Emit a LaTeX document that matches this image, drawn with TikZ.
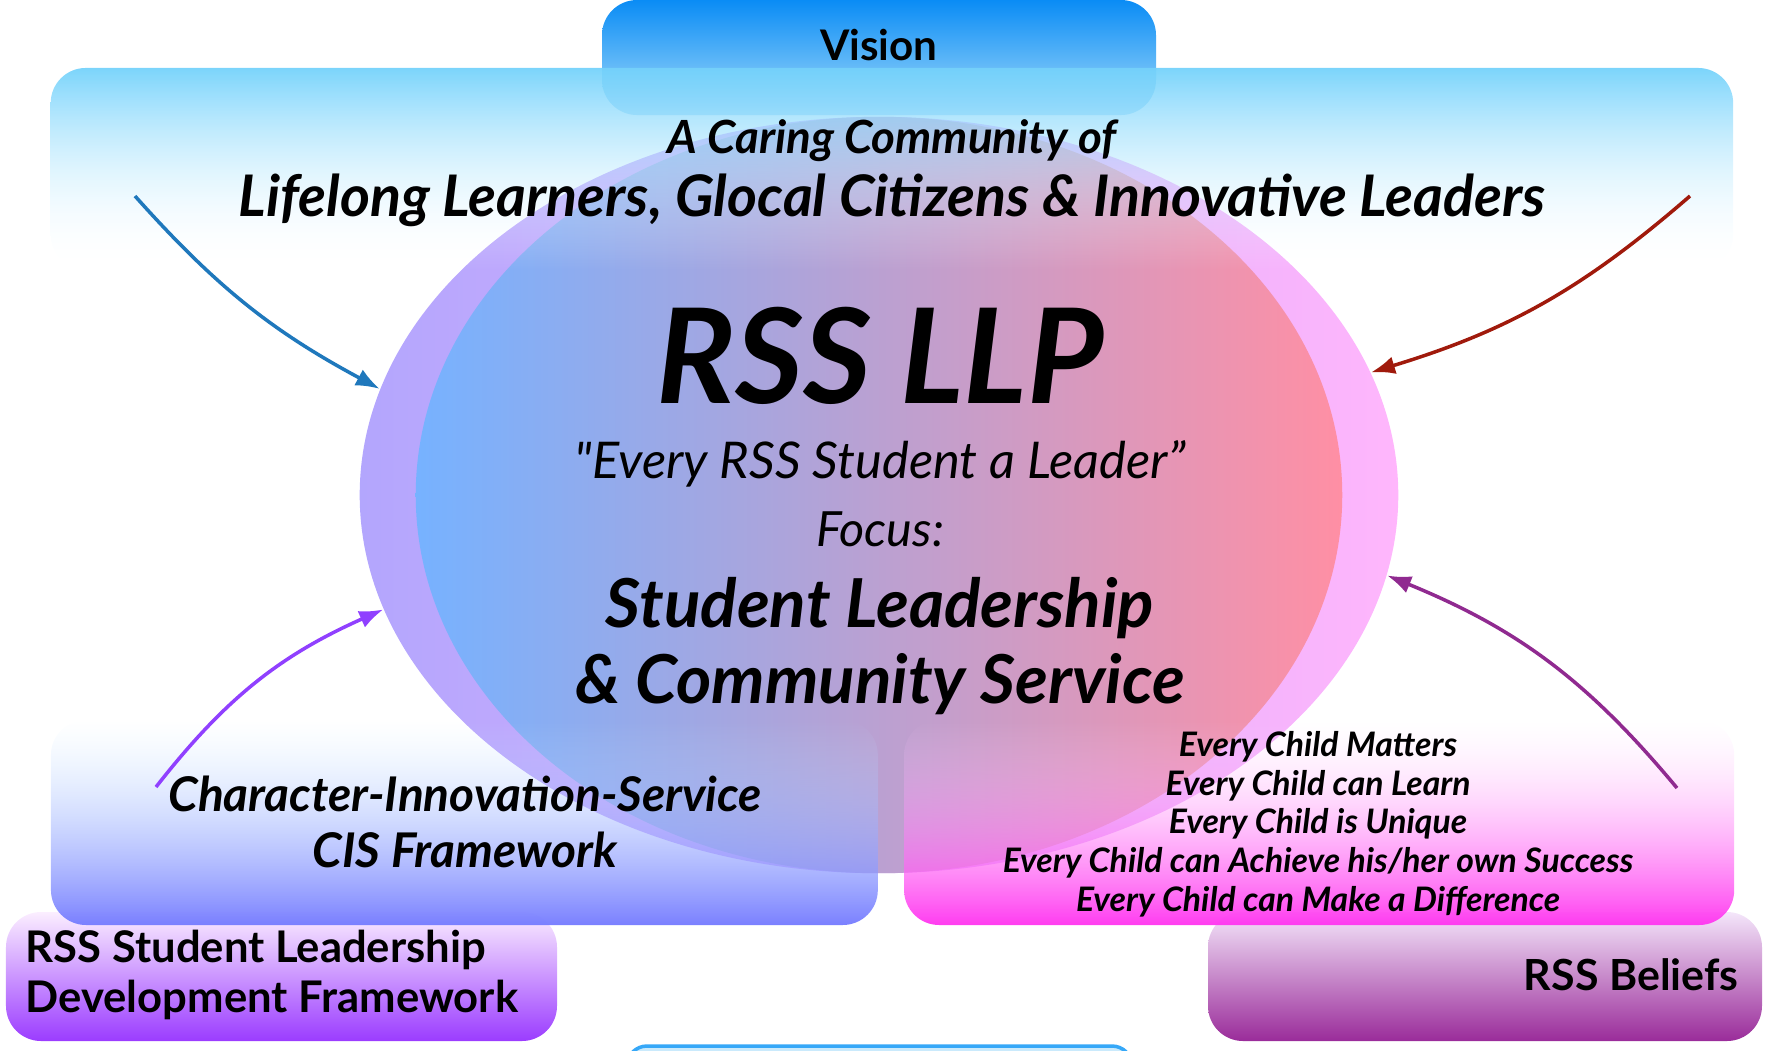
\documentclass[tikz,border=0pt]{standalone}
\usepackage{fontspec}
\setmainfont{Lato}
\usetikzlibrary{arrows.meta,shapes.geometric,fadings}

\definecolor{visiontop}{HTML}{0A8CF5}
\definecolor{visionbot}{HTML}{A6DCFA}
\definecolor{topbox}{HTML}{74D2FB}
\definecolor{outerleft}{HTML}{B3A6FD}
\definecolor{outerright}{HTML}{FFB6FC}
\definecolor{innerleft}{HTML}{76B2FF}
\definecolor{innerright}{HTML}{FF8FA4}
\definecolor{cistop}{HTML}{C4E6FF}
\definecolor{cisbot}{HTML}{7A80FF}
\definecolor{belieftop}{HTML}{FFD8FF}
\definecolor{beliefbot}{HTML}{FF3CF0}
\definecolor{sldftop}{HTML}{FBEEFF}
\definecolor{sldfbot}{HTML}{9B3CFF}
\definecolor{rsbtop}{HTML}{F4E6FA}
\definecolor{rsbbot}{HTML}{9A2C9A}
\definecolor{peekblue}{HTML}{36A8F8}
\definecolor{bluearrow}{HTML}{1F78BC}
\definecolor{redarrow}{HTML}{A01A0C}
\definecolor{violetarrow}{HTML}{9040FF}
\definecolor{plumarrow}{HTML}{902A90}

\tikzset{
  panel/.style={rounded corners=0.35cm},
  link/.style={line width=1pt, -{Latex[length=2.4mm,width=1.8mm]}},
  headtext/.style={font=\fontsize{12}{14}\selectfont\bfseries},
  slogan/.style={font=\fontsize{16.3}{19}\selectfont\bfseries\itshape},
  midtext/.style={font=\fontsize{13.6}{16}\selectfont\bfseries\itshape, align=center},
  bigtext/.style={font=\fontsize{19.2}{21.8}\selectfont\bfseries\itshape, align=center},
  smalltext/.style={font=\fontsize{9.6}{11}\selectfont\bfseries\itshape, align=center},
}

\begin{document}
\begin{tikzpicture}[x=0.01cm,y=-0.01cm]
\useasboundingbox (0,0) rectangle (1765,1050);

% tabs behind the panels
\shade[panel, top color=visiontop, bottom color=visionbot] (602,0) rectangle (1156,115);
\shade[panel, top color=sldftop, bottom color=sldfbot] (6,912) rectangle (557,1041);
\shade[panel, top color=rsbtop, bottom color=rsbbot] (1208,912) rectangle (1762,1041);
\draw[line width=1pt, draw=peekblue, fill=visionbot!60, rounded corners=0.2cm] (627,1046) rectangle (1132,1130);

% the two ellipses
\node[ellipse, minimum width=10.38cm, minimum height=7.56cm, left color=outerleft, right color=outerright] (llp) at (879,495) {};
\node[ellipse, minimum width=9.26cm, minimum height=7.56cm, left color=innerleft, right color=innerright] (core) at (879,495) {};

% panels over the ellipse
\shade[panel, top color=topbox, bottom color=white, path fading=south, fill opacity=0.95] (51,68) rectangle (1734,270);
\shade[panel, top color=cistop, bottom color=cisbot, path fading=north] (51,720) rectangle (878,925);
\shade[panel, top color=belieftop, bottom color=beliefbot, path fading=north] (904,720) rectangle (1734,925);

% texts
\node[headtext] (vision) at (879,45) {Vision};
\node[slogan, font=\fontsize{13}{15}\selectfont\bfseries\itshape] (caring) at (892,141) {A Caring Community of};
\node[slogan] (lifelong) at (892,200) {Lifelong Learners, Glocal Citizens \& Innovative Leaders};
\node[font=\fontsize{37.5}{40}\selectfont\bfseries\itshape] (title) at (880,356) {RSS LLP};
\node[font=\fontsize{14.4}{17}\selectfont\itshape] (motto) at (880,464) {\textquotedbl Every RSS Student a Leader”};
\node[font=\fontsize{13.8}{16}\selectfont\itshape] (focus) at (880,529) {Focus:};
\node[bigtext] (slcs) at (880,646) {Student Leadership\\\& Community Service};
\node[midtext] (cis) at (465,822) {Character-Innovation-Service\\CIS Framework};
\node[smalltext] (beliefs) at (1318,824) {Every Child Matters\\Every Child can Learn\\Every Child is Unique\\Every Child can Achieve his/her own Success\\Every Child can Make a Difference};
\node[headtext, font=\fontsize{12.4}{14}\selectfont\bfseries, align=left, anchor=west, inner sep=0] (sldf) at (25,975) {RSS Student Leadership\\Development Framework};
\node[headtext, font=\fontsize{12.2}{14}\selectfont\bfseries, anchor=east, inner sep=0] (rsb) at (1739,975) {RSS Beliefs};

% arrows into the ellipse
\coordinate (visiontail) at (135,196);
\coordinate (missiontail) at (1690,196);
\coordinate (cistail) at (156,787);
\coordinate (belieftail) at (1677,788);
\draw[link, bluearrow] (visiontail) to[bend right=10] (llp.168);
\draw[link, redarrow] (missiontail) to[bend left=12] (llp.14);
\draw[link, violetarrow] (cistail) to[bend left=14] (llp.193);
\draw[link, plumarrow] (belieftail) to[bend right=14] (llp.351);

\end{tikzpicture}
\end{document}
